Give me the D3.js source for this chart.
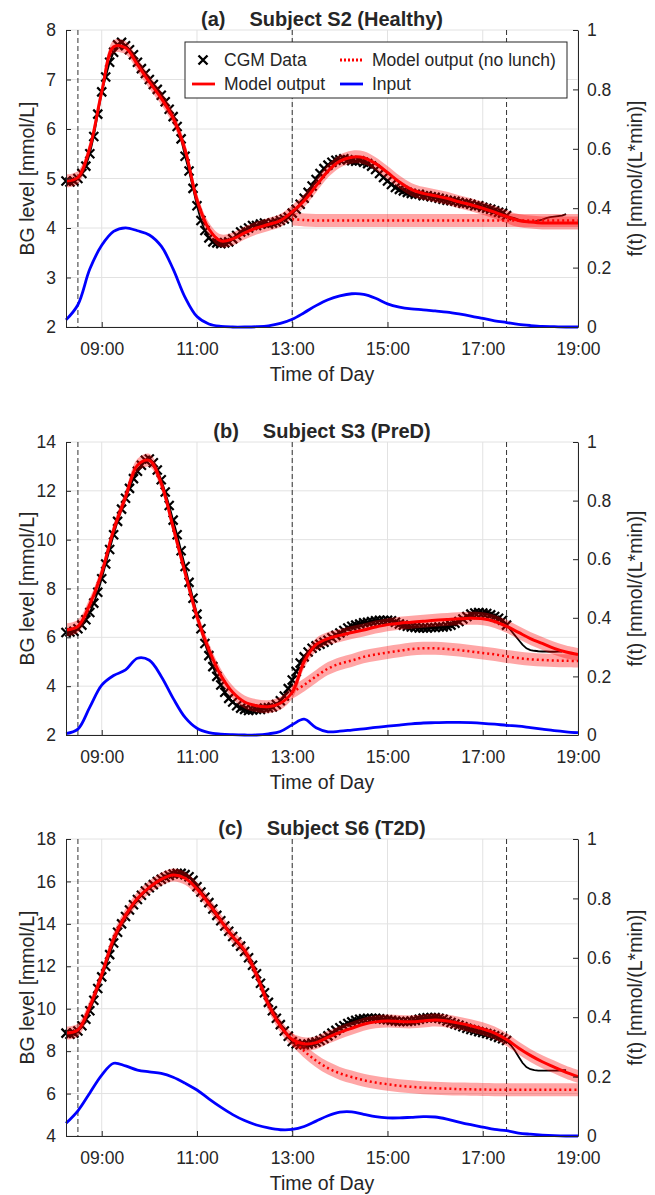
<!DOCTYPE html>
<html>
<head>
<meta charset="utf-8">
<script src="https://cdn.jsdelivr.net/npm/d3@7"></script>
<style>
	body { margin: 0; background: #fff; }
	svg text { font-family: "Liberation Sans", Arial, sans-serif; fill: #262626; }
</style>
</head>
<body>
<svg id="chart" width="655" height="1195"></svg>
<script>
// ---- data ----
const timeDomain = [8.25, 19];
const xTicks = [9, 11, 13, 15, 17, 19];
const xTickLabels = ["09:00", "11:00", "13:00", "15:00", "17:00", "19:00"];
const rightTicks = [0, 0.2, 0.4, 0.6, 0.8, 1];
const mealTimes = [8.5, 13, 17.5];

// model / input sampled every 15 min from 08:15 to 19:00
const hours = d3.range(8.25, 19.001, 0.25);
// no-lunch model sampled every 15 min from 13:00 to 19:00
const noLunchHours = d3.range(13, 19.001, 0.25);
// CGM every 5 min from 08:15, markers up to 17:30
const cgmStart = 8.25;
const cgmStep = 5 / 60;
const cgmMarkerEnd = 17.5;

// Subject S2 (Healthy)
const ticksA = [2, 3, 4, 5, 6, 7, 8];
const modelA = [4.95, 5.02, 5.62,
	6.75, 7.66, 7.64, 7.3,
	6.95, 6.62, 6.22, 5.58,
	4.57, 3.98, 3.74, 3.78,
	3.9, 4.0, 4.07, 4.15,
	4.33, 4.55, 4.85, 5.15,
	5.35, 5.43, 5.42, 5.3,
	5.12, 4.93, 4.78, 4.7,
	4.65, 4.6, 4.53, 4.47,
	4.4, 4.32, 4.23, 4.15,
	4.12, 4.1, 4.1, 4.1,
	4.1];
const noLunchA = [4.18, 4.16, 4.15, 4.15, 4.15, 4.15, 4.15, 4.15, 4.15, 4.15, 4.15, 4.15, 4.15,
	4.15, 4.15, 4.15, 4.15, 4.15, 4.15, 4.15, 4.15, 4.15, 4.15, 4.15, 4.15];
const inputA = [0.024, 0.075, 0.195,
	0.275, 0.322, 0.334, 0.324,
	0.31, 0.272, 0.195, 0.1,
	0.035, 0.01, 0.002, 0,
	0, 0.001, 0.004, 0.012,
	0.026, 0.048, 0.072, 0.092,
	0.105, 0.112, 0.11, 0.097,
	0.078, 0.067, 0.061, 0.058,
	0.054, 0.05, 0.044, 0.037,
	0.029, 0.021, 0.015, 0.009,
	0.005, 0.002, 0.001, 0,
	0];
const cgmA = [4.95, 4.93, 4.95, 5.0, 5.1, 5.25, 5.5, 5.85, 6.3,
	6.75, 7.05, 7.35, 7.55, 7.7, 7.75, 7.68, 7.6, 7.5, 7.35, 7.22, 7.12,
	7.0, 6.9, 6.8, 6.68, 6.55, 6.4, 6.25, 6.05, 5.8, 5.45, 5.15, 4.8,
	4.45, 4.15, 3.95, 3.8, 3.72, 3.7, 3.68, 3.7, 3.72, 3.78, 3.85, 3.92,
	3.95, 4.0, 4.05, 4.05, 4.08, 4.1, 4.08, 4.1, 4.12, 4.15, 4.18, 4.22,
	4.3, 4.38, 4.48, 4.6, 4.72, 4.85, 4.98, 5.1, 5.2, 5.27, 5.33, 5.37,
	5.38, 5.4, 5.38, 5.36, 5.35, 5.36, 5.33, 5.3, 5.25, 5.18, 5.1, 5.02,
	4.95, 4.88, 4.82, 4.78, 4.75, 4.72, 4.7, 4.68, 4.68, 4.65, 4.65, 4.63,
	4.62, 4.6, 4.58, 4.56, 4.55, 4.54, 4.52, 4.5, 4.5, 4.48, 4.45, 4.45,
	4.42, 4.4, 4.38, 4.35, 4.32, 4.3, 4.25, 4.22, 4.2, 4.17, 4.14, 4.12,
	4.12, 4.13, 4.15, 4.17, 4.2, 4.22, 4.23, 4.24, 4.25, 4.28];

// Subject S3 (PreD)
const ticksB = [2, 4, 6, 8, 10, 12, 14];
const modelB = [6.3, 6.45, 7.35,
	8.65, 10.4, 11.75, 13.05,
	13.25, 12.3, 10.5, 8.65,
	6.85, 5.5, 4.45, 3.75,
	3.35, 3.2, 3.16, 3.3,
	3.75, 5.0, 5.7, 5.95,
	6.08, 6.2, 6.3, 6.42,
	6.52, 6.58, 6.62, 6.66,
	6.7, 6.73, 6.76, 6.78,
	6.76, 6.65, 6.45, 6.2,
	5.95, 5.75, 5.55, 5.4,
	5.3];
const noLunchB = [3.75, 4.05, 4.4, 4.72, 4.92, 5.05, 5.2, 5.3, 5.38, 5.45, 5.52, 5.55, 5.55,
	5.52, 5.48, 5.42, 5.36, 5.3, 5.22, 5.15, 5.1, 5.07, 5.05, 5.04, 5.03];
const inputB = [0.005, 0.02, 0.095,
	0.17, 0.203, 0.222, 0.262,
	0.255, 0.2, 0.125, 0.06,
	0.023, 0.008, 0.003, 0.001,
	0, 0, 0.004, 0.012,
	0.035, 0.054, 0.025, 0.011,
	0.013, 0.017, 0.021, 0.026,
	0.03, 0.034, 0.038, 0.041,
	0.042, 0.043, 0.043, 0.042,
	0.04, 0.037, 0.033, 0.03,
	0.025, 0.02, 0.015, 0.011,
	0.008];
const cgmB = [6.2, 6.22, 6.25, 6.35, 6.5, 6.72, 7.02, 7.4, 7.85,
	8.4, 9.0, 9.6, 10.2, 10.75, 11.25, 11.7, 12.1, 12.5, 12.8, 13.05, 13.25,
	13.3, 13.15, 12.85, 12.45, 11.95, 11.4, 10.8, 10.2, 9.55, 8.9, 8.25, 7.6,
	6.95, 6.35, 5.75, 5.25, 4.8, 4.4, 4.05, 3.75, 3.5, 3.35, 3.2, 3.1,
	3.05, 3.0, 3.02, 3.05, 3.05, 3.1, 3.12, 3.15, 3.25, 3.4, 3.6, 3.9,
	4.25, 4.6, 4.95, 5.2, 5.4, 5.55, 5.65, 5.72, 5.8, 5.88, 5.98, 6.08,
	6.18, 6.28, 6.38, 6.45, 6.5, 6.55, 6.6, 6.62, 6.65, 6.68, 6.7, 6.7,
	6.7, 6.68, 6.62, 6.55, 6.5, 6.45, 6.42, 6.4, 6.38, 6.38, 6.38, 6.4,
	6.4, 6.42, 6.42, 6.45, 6.5, 6.58, 6.65, 6.75, 6.85, 6.95, 7.0, 7.02,
	7.0, 6.98, 6.92, 6.85, 6.78, 6.7, 6.5, 6.3, 6.1, 5.9, 5.7, 5.55,
	5.48, 5.45, 5.43, 5.42, 5.42, 5.41, 5.41, 5.42, 5.42];

// Subject S6 (T2D)
const ticksC = [4, 6, 8, 10, 12, 14, 16, 18];
const modelC = [8.85, 9.0, 10.1,
	11.6, 13.3, 14.4, 15.2,
	15.72, 16.1, 16.3, 16.15,
	15.65, 14.95, 14.15, 13.4,
	12.75, 11.6, 10.2, 9.2,
	8.55, 8.35, 8.4, 8.65,
	8.88, 9.08, 9.27, 9.38,
	9.42, 9.4, 9.38, 9.42,
	9.47, 9.42, 9.32, 9.2,
	9.05, 8.85, 8.55, 8.15,
	7.8, 7.5, 7.25, 7.0,
	6.8];
const noLunchC = [8.55, 8.0, 7.55, 7.2, 6.95, 6.78, 6.63, 6.52, 6.44, 6.37, 6.32, 6.28, 6.25,
	6.23, 6.21, 6.2, 6.19, 6.18, 6.18, 6.18, 6.18, 6.18, 6.18, 6.18, 6.18];
const inputC = [0.043, 0.085, 0.145,
	0.205, 0.245, 0.236, 0.222,
	0.216, 0.211, 0.198, 0.178,
	0.155, 0.125, 0.097, 0.072,
	0.052, 0.037, 0.027, 0.021,
	0.022, 0.032, 0.05, 0.068,
	0.08, 0.081, 0.073, 0.065,
	0.061, 0.061, 0.063, 0.065,
	0.064, 0.057, 0.047, 0.038,
	0.03, 0.022, 0.018, 0.01,
	0.006, 0.003, 0.001, 0,
	0];
const cgmC = [8.85, 8.8, 8.85, 8.95, 9.2, 9.5, 9.9, 10.4, 10.95,
	11.5, 12.0, 12.55, 13.1, 13.6, 14.0, 14.35, 14.65, 14.9, 15.15, 15.35, 15.55,
	15.7, 15.85, 16.0, 16.1, 16.2, 16.28, 16.35, 16.38, 16.38, 16.32, 16.22, 16.05,
	15.75, 15.5, 15.25, 15.0, 14.7, 14.4, 14.15, 13.9, 13.65, 13.4, 13.15, 12.95,
	12.7, 12.4, 12.05, 11.65, 11.2, 10.75, 10.3, 9.9, 9.55, 9.25, 8.95, 8.7,
	8.45, 8.35, 8.3, 8.3, 8.33, 8.38, 8.43, 8.5, 8.6, 8.72, 8.85, 8.98,
	9.1, 9.2, 9.3, 9.38, 9.45, 9.5, 9.53, 9.55, 9.55, 9.55, 9.53, 9.5,
	9.48, 9.45, 9.42, 9.4, 9.4, 9.4, 9.42, 9.45, 9.5, 9.55, 9.57, 9.58,
	9.58, 9.55, 9.5, 9.42, 9.35, 9.28, 9.22, 9.15, 9.08, 9.02, 8.97, 8.92,
	8.88, 8.83, 8.78, 8.72, 8.65, 8.58, 8.5, 8.3, 8.05, 7.75, 7.45, 7.25,
	7.15, 7.1, 7.08, 7.08, 7.08, 7.08, 7.08, 7.08, 7.1, 7.1];

// ---- layout ----
const svg = d3.select("#chart");
const plotLeft = 66, plotRight = 578;
const axisColor = "#262626";
const gridColor = "#e2e2e2";
const tickFont = "17.5px";
const labelFont = "19.5px";
const bandHalf = 6.5;

const panels = [
	{ tag: "(a)", title: "Subject S2 (Healthy)", top: 30, bottom: 327, yDomain: [2, 8], yTicks: ticksA,
		model: modelA, noLunch: noLunchA, input: inputA, cgm: cgmA, legend: true },
	{ tag: "(b)", title: "Subject S3 (PreD)", top: 442, bottom: 735, yDomain: [2, 14], yTicks: ticksB,
		model: modelB, noLunch: noLunchB, input: inputB, cgm: cgmB, legend: false },
	{ tag: "(c)", title: "Subject S6 (T2D)", top: 839, bottom: 1136, yDomain: [4, 18], yTicks: ticksC,
		model: modelC, noLunch: noLunchC, input: inputC, cgm: cgmC, legend: false }
];

const xMark = "M-4.5,-4.5L4.5,4.5M-4.5,4.5L4.5,-4.5";

function styleAxis(sel) {
	sel.attr("font-family", null).attr("font-size", null);
	sel.select(".domain").attr("stroke", axisColor);
	sel.selectAll(".tick line").attr("stroke", axisColor);
	sel.selectAll(".tick text").style("font-size", tickFont).attr("fill", axisColor);
}

function drawPanel(p) {
	const g = svg.append("g");
	const x = d3.scaleLinear().domain(timeDomain).range([plotLeft, plotRight]);
	const y = d3.scaleLinear().domain(p.yDomain).range([p.bottom, p.top]);
	const yr = d3.scaleLinear().domain([0, 1]).range([p.bottom, p.top]);
	const curve = d3.curveCatmullRom.alpha(0.5);

	// grid
	g.append("g").selectAll("line")
		.data(p.yTicks)
		.enter()
		.append("line")
		.attr("x1", plotLeft)
		.attr("x2", plotRight)
		.attr("y1", d => y(d))
		.attr("y2", d => y(d))
		.attr("stroke", gridColor)
	g.append("g").selectAll("line")
		.data(xTicks)
		.enter()
		.append("line")
		.attr("x1", d => x(d))
		.attr("x2", d => x(d))
		.attr("y1", p.top)
		.attr("y2", p.bottom)
		.attr("stroke", gridColor)

	// meal times
	g.append("g").selectAll("line")
		.data(mealTimes)
		.enter()
		.append("line")
		.attr("x1", d => x(d))
		.attr("x2", d => x(d))
		.attr("y1", p.top)
		.attr("y2", p.bottom)
		.attr("stroke", "#333")
		.attr("stroke-dasharray", "5,3")

	// input on right axis
	g.append("path")
		.datum(hours.map((t, i) => [t, p.input[i]]))
		.attr("d", d3.line().x(d => x(d[0])).y(d => yr(d[1])).curve(curve))
		.attr("fill", "none")
		.attr("stroke", "#0000ff")
		.attr("stroke-width", 2.8)

	// CGM data
	const cgmPts = p.cgm.map((v, i) => [cgmStart + i * cgmStep, v]);
	g.append("path")
		.datum(cgmPts)
		.attr("d", d3.line().x(d => x(d[0])).y(d => y(d[1])))
		.attr("fill", "none")
		.attr("stroke", "#000")
		.attr("stroke-width", 1.8)
	g.append("g").selectAll("path")
		.data(cgmPts.filter(d => d[0] <= cgmMarkerEnd + 1e-6))
		.enter()
		.append("path")
		.attr("d", xMark)
		.attr("transform", d => `translate(${x(d[0])},${y(d[1])})`)
		.attr("stroke", "#000")
		.attr("stroke-width", 2.2)

	// model curves with bands
	const modelPts = hours.map((t, i) => [t, p.model[i]]);
	const noLunchPts = noLunchHours.map((t, i) => [t, p.noLunch[i]]);
	const bgLine = d3.line().x(d => x(d[0])).y(d => y(d[1])).curve(curve);
	const band = d3.area()
		.x(d => x(d[0]))
		.y0(d => y(d[1]) + bandHalf)
		.y1(d => y(d[1]) - bandHalf)
		.curve(curve);
	[noLunchPts, modelPts].forEach(pts => {
		g.append("path")
			.datum(pts)
			.attr("d", band)
			.attr("fill", "#ff0000")
			.attr("fill-opacity", 0.35)
	})
	g.append("path")
		.datum(noLunchPts)
		.attr("d", bgLine)
		.attr("fill", "none")
		.attr("stroke", "#ff0000")
		.attr("stroke-width", 2.5)
		.attr("stroke-dasharray", "2,3")
	g.append("path")
		.datum(modelPts)
		.attr("d", bgLine)
		.attr("fill", "none")
		.attr("stroke", "#ff0000")
		.attr("stroke-width", 3)

	// axes
	g.append("g")
		.attr("transform", `translate(${plotLeft},0)`)
		.call(d3.axisLeft(y).tickValues(p.yTicks).tickFormat(d3.format("d")).tickSize(-5).tickSizeOuter(0).tickPadding(10))
		.call(styleAxis)
	g.append("g")
		.attr("transform", `translate(${plotRight},0)`)
		.call(d3.axisRight(yr).tickValues(rightTicks).tickFormat(d3.format("~g")).tickSize(-5).tickSizeOuter(0).tickPadding(9))
		.call(styleAxis)
	g.append("g")
		.attr("transform", `translate(0,${p.bottom})`)
		.call(d3.axisBottom(x).tickValues(xTicks).tickFormat((d, i) => xTickLabels[i]).tickSize(-5).tickSizeOuter(0).tickPadding(16))
		.call(styleAxis)

	// labels
	const midX = (plotLeft + plotRight) / 2;
	const midY = (p.top + p.bottom) / 2;
	const title = g.append("text")
		.attr("x", midX)
		.attr("y", p.top - 4)
		.attr("text-anchor", "middle")
		.style("font-size", "20px")
		.style("font-weight", "bold")
	title.append("tspan").text(p.tag)
	title.append("tspan").attr("dx", 24).text(p.title)

	g.append("text")
		.attr("x", midX)
		.attr("y", p.bottom + 54)
		.attr("text-anchor", "middle")
		.style("font-size", labelFont)
		.text("Time of Day")
	g.append("text")
		.attr("transform", `translate(33.5,${midY}) rotate(-90)`)
		.attr("text-anchor", "middle")
		.style("font-size", labelFont)
		.text("BG level [mmol/L]")
	g.append("text")
		.attr("transform", `translate(642,${midY}) rotate(-90)`)
		.attr("text-anchor", "middle")
		.style("font-size", labelFont)
		.text("f(t) [mmol/(L*min)]")

	if (p.legend) drawLegend(g);
}

function drawLegend(g) {
	const lg = g.append("g");
	lg.append("rect")
		.attr("x", 185)
		.attr("y", 42)
		.attr("width", 382)
		.attr("height", 56)
		.attr("fill", "#fff")
		.attr("stroke", axisColor)
	const items = [
		{ label: "CGM Data", col: 0, row: 0, kind: "marker" },
		{ label: "Model output (no lunch)", col: 1, row: 0, kind: "dotted" },
		{ label: "Model output", col: 0, row: 1, kind: "red" },
		{ label: "Input", col: 1, row: 1, kind: "blue" }
	];
	const colX = [192, 340];
	const rowY = [60, 84];
	items.forEach(it => {
		const x0 = colX[it.col], yy = rowY[it.row];
		if (it.kind === "marker") {
			lg.append("path").attr("d", xMark).attr("transform", `translate(${x0 + 11},${yy})`)
				.attr("stroke", "#000").attr("stroke-width", 2.4)
		} else {
			lg.append("line").attr("x1", x0).attr("x2", x0 + 23).attr("y1", yy).attr("y2", yy)
				.attr("stroke", it.kind === "blue" ? "#0000ff" : "#ff0000")
				.attr("stroke-width", 2.8)
				.attr("stroke-dasharray", it.kind === "dotted" ? "2,2" : null)
		}
		lg.append("text")
			.attr("x", x0 + 32)
			.attr("y", yy)
			.attr("dy", "0.35em")
			.style("font-size", tickFont)
			.text(it.label)
	})
}

panels.forEach(drawPanel);
</script>
</body>
</html>
